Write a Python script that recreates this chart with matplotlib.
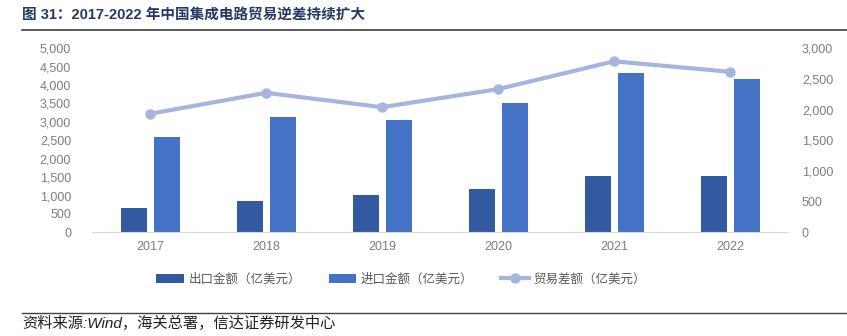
import numpy as np
import matplotlib
matplotlib.use("Agg")
import matplotlib.pyplot as plt

# ---- data (亿美元) ----
years = ["2017", "2018", "2019", "2020", "2021", "2022"]
exports = [669, 846, 1016, 1166, 1538, 1539]
imports = [2601, 3121, 3056, 3500, 4326, 4156]
deficit = [1932, 2274, 2040, 2334, 2788, 2617]

labels = ["出口金额（亿美元）", "进口金额（亿美元）", "贸易差额（亿美元）"]
title = "图 31：2017-2022 年中国集成电路贸易逆差持续扩大"
source = "资料来源:Wind，海关总署，信达证券研发中心"

FONTS = ["Liberation Sans", "Noto Sans CJK SC", "DejaVu Sans"]
plt.rcParams["font.family"] = FONTS
GREY = "#7F7F7F"

fig = plt.figure(figsize=(8.47, 3.36), dpi=100)
ax = fig.add_axes([92 / 847, 1 - 232.3 / 336, 696 / 847, 184 / 336])
ax2 = ax.twinx()

x = np.arange(len(years))
w = 0.224
b1 = ax.bar(x - 0.141, exports, w, color="#335AA0", label=labels[0], zorder=2)
b2 = ax.bar(x + 0.143, imports, w, color="#4472C4", label=labels[1], zorder=2)
ln, = ax2.plot(x, deficit, color="#A5B5DE", lw=3, marker="o", ms=6.5,
               label=labels[2], zorder=3)

ax.set_xlim(-0.5, 5.5)
ax.set_ylim(0, 5000)
ax.set_yticks(np.arange(0, 5001, 500))
ax2.set_ylim(0, 3000)
ax2.set_yticks(np.arange(0, 3001, 500))
ax.set_xticks(x, years)

fmt = matplotlib.ticker.FuncFormatter(lambda v, p: f"{v:,.0f}")
ax.yaxis.set_major_formatter(fmt)
ax2.yaxis.set_major_formatter(fmt)

for a in (ax, ax2):
    for s in a.spines.values():
        s.set_visible(False)
    a.tick_params(length=0, labelsize=9, labelcolor=GREY)
ax.spines["bottom"].set_visible(True)
ax.spines["bottom"].set_color("#D9D9D9")
ax.tick_params(axis="y", pad=15)
ax2.tick_params(axis="y", pad=10)
ax.tick_params(axis="x", pad=6)

# ---- legend ----
leg = fig.legend([b1, b2, ln], labels, loc="center", ncol=3,
                 bbox_to_anchor=(401 / 847, 1 - 279 / 336), frameon=False,
                 handlelength=2.2, handletextpad=0.4, columnspacing=2.2,
                 prop={"family": ["Noto Sans CJK SC"], "size": 9})
for t in leg.get_texts():
    t.set_color("#595959")

# ---- header / footer ----
fig.text(22 / 847, 1 - 15 / 336, title, fontsize=10.5, fontweight="bold",
         color="#243A66", va="center", ha="left")
fig.add_artist(plt.Line2D([22 / 847, 1], [1 - 30 / 336] * 2, color="#404040", lw=1.2))
fig.add_artist(plt.Line2D([22 / 847, 1], [1 - 313 / 336] * 2, color="#404040", lw=1.0))
fig.text(22 / 847, 1 - 323 / 336, source, fontsize=11, style="italic",
         color="#222222", va="center", ha="left")

fig.savefig("out.png", dpi=100)
